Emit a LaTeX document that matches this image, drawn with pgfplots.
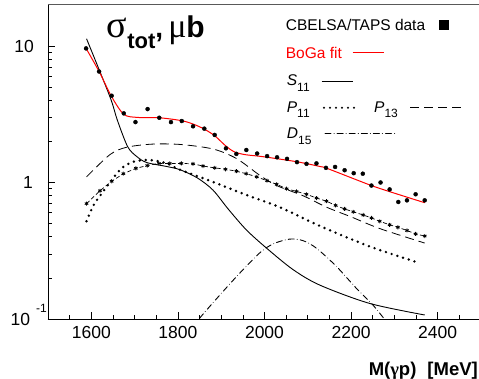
\documentclass[border=0pt]{standalone}
\usepackage{pgfplots}
\pgfplotsset{compat=1.18}
\usepackage{fontspec}
\setmainfont{Liberation Sans}
\newfontfamily\greek{Liberation Serif}
\begin{document}
\begin{tikzpicture}
\begin{axis}[
  at={(0,0)}, anchor=south west,
  width=433pt, height=314.7pt, scale only axis,
  xmin=1500, xmax=2500, ymode=log, ymin=0.1, ymax=20.2,
  axis x line*=bottom, axis y line*=left,
  x axis line style={-, line width=0.9pt},
  y axis line style={-, line width=0.9pt},
  xtick={1600,1800,...,2400},
  minor xtick={1500,1550,...,2500},
  ytick={0.1,1,10},
  yticklabels={{10\kern6pt\smash{\raisebox{13pt}{\fontsize{12}{12}\selectfont -1}}\kern1pt},{1\kern15pt},{10\kern14pt}},
  tick align=inside,
  major tick length=7pt, minor tick length=3.8pt,
  every tick/.style={black, line width=0.7pt},
  xticklabel style={font=\fontsize{17.5}{18}\selectfont, inner sep=0pt, yshift=-7pt},
  yticklabel style={font=\fontsize{17.5}{18}\selectfont, inner sep=0pt, anchor=east},
  /pgf/number format/assume math mode=true,
  /pgf/number format/1000 sep={},
  clip=true,
]
% P13 dashed
\addplot[black, line width=0.8pt, smooth, dash pattern=on 9pt off 5pt] coordinates {
(1589,1.10) (1643,1.60) (1681,1.81) (1740,1.91) (1805,1.90) (1881,1.76) (1935,1.50)
(1989,1.13) (2028,0.95) (2089,0.80) (2143,0.66) (2200,0.56) (2266,0.46) (2370,0.36)};
% P11 dotted
\addplot[black, line width=2.7pt, smooth, line cap=round, dash pattern=on 0pt off 6pt] coordinates {
(1589,0.52) (1605,0.68) (1624,0.83) (1647,1.04) (1670,1.27) (1697,1.42) (1735,1.46)
(1774,1.38) (1805,1.24) (1881,1.01) (1958,0.81) (2035,0.66) (2128,0.48) (2243,0.34) (2358,0.257)};
% starred dashed
\addplot[black, line width=0.7pt, dash pattern=on 4pt off 2.5pt, mark=asterisk, mark size=2pt,
  mark options={solid, line width=0.8pt}] coordinates {
(1589,0.70) (1620,0.87) (1647,1.02) (1674,1.16) (1703,1.27) (1729,1.33) (1756,1.38)
(1781,1.38) (1808,1.38) (1835,1.37) (1858,1.32) (1885,1.28) (1910,1.25) (1935,1.21)
(1958,1.16) (1982,1.10) (2006,1.03) (2028,0.97) (2051,0.90) (2074,0.86) (2097,0.82)
(2120,0.77) (2143,0.73) (2164,0.68) (2185,0.64) (2205,0.61) (2228,0.578) (2247,0.55)
(2266,0.52) (2289,0.49) (2308,0.47) (2329,0.445) (2349,0.42) (2370,0.405)};
% D15 dash-dot
\addplot[black, line width=0.9pt, smooth, line cap=round, dash pattern=on 6pt off 3pt on 0.1pt off 3pt] coordinates {
(1835,0.085) (1851,0.102) (1897,0.150) (1943,0.217) (1989,0.305) (2020,0.355) (2058,0.385)
(2089,0.375) (2120,0.33) (2166,0.243) (2212,0.168) (2250,0.127) (2280,0.097) (2290,0.088)};
% S11 solid
\addplot[black, line width=0.9pt, smooth] coordinates {
(1589,11.3) (1643,4.25) (1660,2.87) (1684,1.83) (1705,1.55) (1728,1.40) (1774,1.31)
(1805,1.24) (1845,1.08) (1881,0.88) (1916,0.64) (1958,0.45) (2005,0.33) (2066,0.23)
(2128,0.177) (2243,0.130) (2370,0.107)};
% BoGa fit
\addplot[red, line width=1pt, smooth] coordinates {
(1588,9.6) (1618,6.5) (1647,4.25) (1675,3.16) (1705,3.0) (1757,2.98) (1808,2.84)
(1835,2.68) (1860,2.47) (1885,2.2) (1910,1.86) (1930,1.68) (1955,1.6) (1997,1.545)
(2074,1.42) (2128,1.31) (2147,1.26) (2243,0.96) (2289,0.857) (2370,0.711)};
% data
\addplot[only marks, mark=*, mark size=2pt, black] coordinates {
(1588,9.6) (1618,6.5) (1647,4.32) (1675,3.21) (1702,2.77) (1730,3.45) (1757,2.98)
(1784,2.77) (1809,2.82) (1835,2.58) (1861,2.48) (1885,2.23) (1911,1.78) (1935,1.62)
(1958,1.73) (1983,1.63) (2006,1.56) (2029,1.53) (2052,1.49) (2075,1.41) (2097,1.37)
(2120,1.38) (2142,1.28) (2163,1.30) (2185,1.23) (2206,1.17) (2227,1.16) (2247,0.95)
(2268,1.00) (2289,0.89) (2309,0.72) (2329,0.74) (2349,0.82) (2370,0.74)};
\end{axis}
% top frame line
\draw[gray!70!black, line width=1.1pt] (0,314.7pt) -- (433pt,314.7pt);
% title
\node[anchor=base west, inner sep=0pt] at (58.7pt,281pt) {{\greek\fontsize{38}{38}\selectfont σ}\raisebox{-11pt}{\fontsize{22}{22}\selectfont\bfseries tot}{\fontsize{28}{28}\selectfont\bfseries,\kern5pt}{\greek\fontsize{34}{34}\selectfont μ}{\fontsize{30}{30}\selectfont\bfseries b}};
% legend
\begin{scope}[font=\fontsize{15.5}{16}\selectfont]
\node[anchor=west, inner sep=0pt] at (237.7pt,294pt) {CBELSA/TAPS data};
\fill (391pt,289pt) rectangle (401pt,299pt);
\node[anchor=west, inner sep=0pt, text=red] at (237.7pt,266.3pt) {BoGa fit};
\draw[red, line width=1pt] (304.7pt,266.3pt) -- (336pt,266.3pt);
\node[anchor=base west, inner sep=0pt] at (238.7pt,233pt) {\textit{S}\raisebox{-5pt}{\fontsize{12}{12}\selectfont 11}};
\draw[line width=0.9pt] (273.7pt,237.3pt) -- (305pt,237.3pt);
\node[anchor=base west, inner sep=0pt] at (238.7pt,206pt) {\textit{P}\raisebox{-5pt}{\fontsize{12}{12}\selectfont 11}};
\draw[line width=2.2pt, line cap=round, dash pattern=on 0pt off 6pt] (276pt,211.3pt) -- (306pt,211.3pt);
\node[anchor=base west, inner sep=0pt] at (326pt,206pt) {\textit{P}\raisebox{-5pt}{\fontsize{12}{12}\selectfont 13}};
\draw[line width=0.8pt, dash pattern=on 9pt off 5pt] (362pt,211.3pt) -- (414pt,211.3pt);
\node[anchor=base west, inner sep=0pt] at (238.7pt,180pt) {\textit{D}\raisebox{-5pt}{\fontsize{12}{12}\selectfont 15}};
\draw[line width=0.9pt, line cap=round, dash pattern=on 6pt off 3pt on 0.1pt off 3pt] (277pt,185.3pt) -- (349pt,185.3pt);
\end{scope}
% x label
\node[anchor=base east, inner sep=0pt, font=\fontsize{18.5}{19}\selectfont\bfseries] at (430pt,-56pt) {M({\greek γ}p)\kern11pt[MeV]};
\pgfresetboundingbox
\path (-48pt,-59pt) rectangle (431pt,319pt);
\end{tikzpicture}
\end{document}
